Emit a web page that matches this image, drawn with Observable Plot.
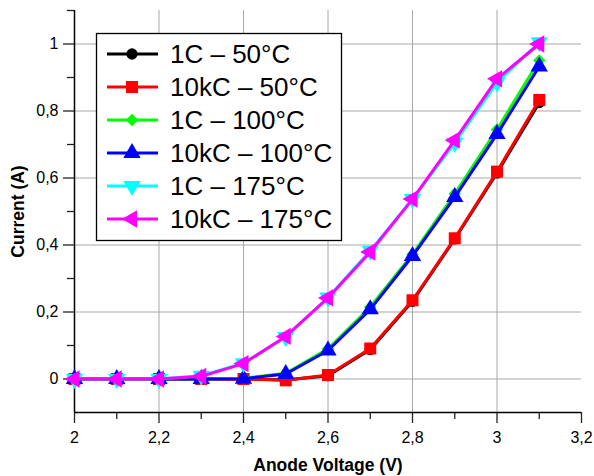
<!DOCTYPE html>
<html>
<head>
<meta charset="utf-8">
<script src="https://cdn.jsdelivr.net/npm/d3@7"></script>
<script src="https://cdn.jsdelivr.net/npm/@observablehq/plot@0.6"></script>
<style>
  html, body { margin: 0; padding: 0; background: #fff; }
  #chart { position: relative; width: 594px; height: 476px; font-family: "Liberation Sans", Arial, sans-serif; }
  #legend { position: absolute; left: 0; top: 0; pointer-events: none; }
</style>
</head>
<body>
<div id="chart"></div>
<script>
// ---- data ----
const voltages = [2.0, 2.1, 2.2, 2.3, 2.4, 2.5, 2.6, 2.7, 2.8, 2.9, 3.0, 3.1];
const seriesNames = ["1C – 50°C", "10kC – 50°C", "1C – 100°C", "10kC – 100°C", "1C – 175°C", "10kC – 175°C"];
const seriesColors = ["#000000", "#ff0000", "#00ff00", "#0000ff", "#00ffff", "#ff00ff"];
const c1_50    = [0, 0, 0, 0, 0, -0.003, 0.010, 0.088, 0.232, 0.418, 0.615, 0.825];
const c10k_50  = [0, 0, 0, 0, 0, -0.004, 0.012, 0.091, 0.235, 0.420, 0.619, 0.833];
const c1_100   = [0, 0, 0, 0, 0.002, 0.017, 0.090, 0.215, 0.372, 0.553, 0.745, 0.951];
const c10k_100 = [0, 0, 0, 0, 0.001, 0.015, 0.085, 0.208, 0.367, 0.543, 0.731, 0.933];
const c1_175   = [0, 0, 0, 0.010, 0.047, 0.125, 0.243, 0.383, 0.537, 0.705, 0.885, 1.005];
const c10k_175 = [0, 0, 0, 0.008, 0.046, 0.127, 0.242, 0.379, 0.537, 0.713, 0.896, 1.000];
const seriesValues = [c1_50, c10k_50, c1_100, c10k_100, c1_175, c10k_175];
const xMajorTicks = [2, 2.2, 2.4, 2.6, 2.8, 3, 3.2];
const xMinorTicks = [2.1, 2.3, 2.5, 2.7, 2.9, 3.1];
const yMajorTicks = [0, 0.2, 0.4, 0.6, 0.8, 1];
const yMinorTicks = [0.1, 0.3, 0.5, 0.7, 0.9, 1.1];
const xTitle = "Anode Voltage (V)";
const yTitle = "Current (A)";

// ---- symbols ----
const sqrt3 = Math.sqrt(3);
const triDown = { draw(ctx, size) { const y = -Math.sqrt(size / (sqrt3 * 3)); ctx.moveTo(0, -y * 2); ctx.lineTo(-sqrt3 * y, y); ctx.lineTo(sqrt3 * y, y); ctx.closePath(); } };
const triLeft = { draw(ctx, size) { const y = -Math.sqrt(size / (sqrt3 * 3)); ctx.moveTo(y * 2, 0); ctx.lineTo(-y, -sqrt3 * y); ctx.lineTo(-y, sqrt3 * y); ctx.closePath(); } };
const seriesSymbols = [d3.symbolCircle, d3.symbolSquare, d3.symbolDiamond2, d3.symbolTriangle, triDown, triLeft];
const seriesSizes = [100, 144, 100, 130, 130, 130];

const fmt = d => String(Math.round(d * 10) / 10).replace(".", ",");

const rows = seriesNames.flatMap((name, k) => voltages.map((x, i) => ({x, y: seriesValues[k][i], k})));

const W = 594, H = 476, ML = 74, MR = 13, MT = 10, MB = 64;
const marks = [
  Plot.gridX(xMajorTicks.filter(d => d > 2 && d < 3.2), {stroke: "#a8a8a8", strokeOpacity: 1}),
  Plot.gridY(yMajorTicks, {stroke: "#a8a8a8", strokeOpacity: 1}),
  Plot.axisX(xMajorTicks, {tickSize: 11, tickPadding: 8, tickFormat: fmt, fontSize: 16, label: null, stroke: "#222", strokeWidth: 1.3}),
  Plot.axisX(xMinorTicks, {tickSize: 7, tickFormat: () => "", label: null, stroke: "#222", strokeWidth: 1.3}),
  Plot.axisY(yMajorTicks, {tickSize: 11, tickPadding: 5, tickFormat: fmt, fontSize: 16, label: null, stroke: "#222", strokeWidth: 1.3}),
  Plot.axisY(yMinorTicks, {tickSize: 7, tickFormat: () => "", label: null, stroke: "#222", strokeWidth: 1.3}),
  Plot.ruleX([2], {stroke: "#000", strokeWidth: 1.5}),
  Plot.ruleY([-0.1], {stroke: "#000", strokeWidth: 1.5}),
  Plot.text([xTitle], {frameAnchor: "bottom", dy: 53, textAnchor: "middle", lineAnchor: "middle", fontWeight: "bold", fontSize: 17.5, fill: "#000"}),
  Plot.text([yTitle], {frameAnchor: "left", dx: -56, rotate: -90, textAnchor: "middle", lineAnchor: "middle", fontWeight: "bold", fontSize: 17.5, fill: "#000"})
];
seriesNames.forEach((name, k) => {
  const data = rows.filter(r => r.k === k);
  marks.push(Plot.line(data, {x: "x", y: "y", stroke: seriesColors[k], strokeWidth: 3}));
  marks.push(Plot.dot(data, {x: "x", y: "y", fill: seriesColors[k], stroke: "none", symbol: () => seriesSymbols[k], r: Math.sqrt(seriesSizes[k] / Math.PI)}));
});

const plot = Plot.plot({
  width: W, height: H,
  marginLeft: ML, marginRight: MR, marginTop: MT, marginBottom: MB,
  style: {fontFamily: "'Liberation Sans', Arial, sans-serif", color: "#000", background: "#fff"},
  x: {domain: [2, 3.2]},
  y: {domain: [-0.1, 1.1]},
  symbol: {type: "identity"},
  marks
});
const chart = document.getElementById("chart");
chart.appendChild(plot);

// ---- legend overlay ----
const lg = d3.select(chart).append("svg").attr("id", "legend").attr("width", W).attr("height", H);
lg.append("rect").attr("x", 96.5).attr("y", 33.5).attr("width", 245).attr("height", 207)
  .attr("fill", "#fff").attr("stroke", "#000").attr("stroke-width", 1.3);
seriesNames.forEach((name, k) => {
  const cy = 54 + k * 33;
  const g = lg.append("g");
  g.append("line").attr("x1", 107).attr("x2", 158).attr("y1", cy).attr("y2", cy)
    .attr("stroke", seriesColors[k]).attr("stroke-width", 3);
  g.append("path").attr("transform", `translate(132,${cy})`)
    .attr("d", d3.symbol(seriesSymbols[k], seriesSizes[k])()).attr("fill", seriesColors[k]);
  g.append("text").attr("x", 170).attr("y", cy).attr("dy", "0.35em")
    .attr("font-size", 26).attr("font-family", "'Liberation Sans', Arial, sans-serif")
    .attr("fill", "#000").text(name);
});
</script>
</body>
</html>
